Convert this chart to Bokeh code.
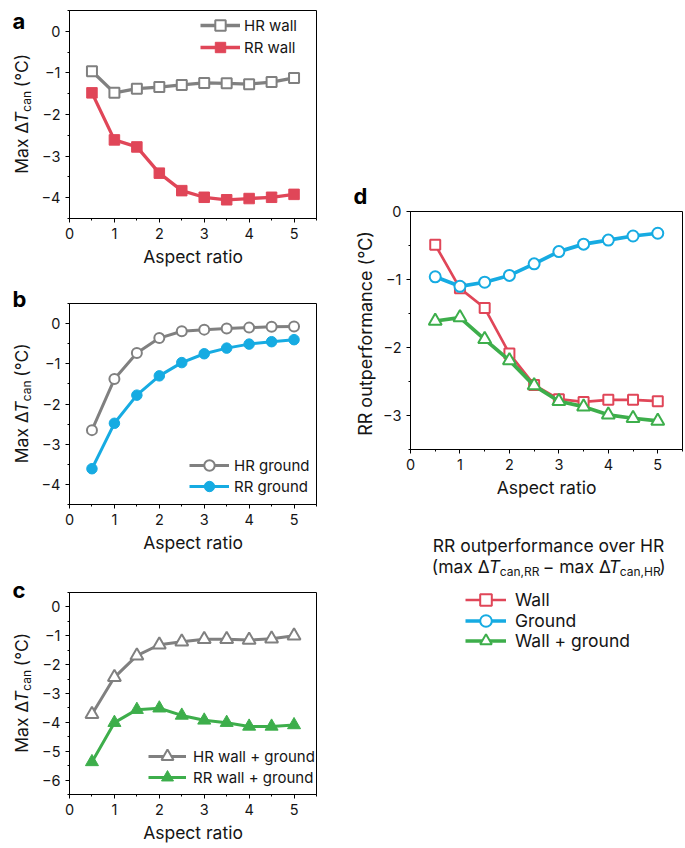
import math
from bokeh.plotting import figure
from bokeh.layouts import row, column
from bokeh.models import (Range1d, SingleIntervalTicker, CustomJSTickFormatter, Legend,
                          LegendItem)
from bokeh.core.properties import value
from bokeh.embed import file_html
from bokeh.resources import INLINE

# ---------------- data ----------------
aspect = [0.5, 1, 1.5, 2, 2.5, 3, 3.5, 4, 4.5, 5]

hr_wall = [-0.96, -1.48, -1.38, -1.34, -1.29, -1.24, -1.25, -1.27, -1.22, -1.12]
rr_wall = [-1.48, -2.61, -2.78, -3.41, -3.83, -3.99, -4.05, -4.02, -3.99, -3.92]

hr_ground = [-2.65, -1.38, -0.73, -0.36, -0.19, -0.15, -0.12, -0.10, -0.08, -0.07]
rr_ground = [-3.61, -2.48, -1.78, -1.30, -0.97, -0.75, -0.61, -0.51, -0.45, -0.40]

hr_wallground = [-3.72, -2.44, -1.69, -1.31, -1.21, -1.12, -1.12, -1.15, -1.10, -1.00]
rr_wallground = [-5.37, -4.01, -3.56, -3.51, -3.76, -3.93, -4.01, -4.14, -4.14, -4.09]

out_wall = [-0.49, -1.13, -1.42, -2.09, -2.55, -2.76, -2.80, -2.77, -2.77, -2.79]
out_ground = [-0.96, -1.10, -1.04, -0.94, -0.77, -0.59, -0.48, -0.42, -0.36, -0.32]
out_wallground = [-1.61, -1.56, -1.88, -2.19, -2.56, -2.79, -2.87, -2.99, -3.04, -3.08]

legend_a = ["HR wall", "RR wall"]
legend_b = ["HR ground", "RR ground"]
legend_c = ["HR wall + ground", "RR wall + ground"]
legend_d = ["Wall", "Ground", "Wall + ground"]

# ---------------- style ----------------
FONT = "Inter"
TXT = "#151515"
GRAY = "#808080"
RED = "#E04658"
BLUE = "#16ABE2"
GREEN = "#3DAE4B"
FIX = 7.0   # baseline correction of text glyphs (px)

fmt = CustomJSTickFormatter(code="return tick < 0 ? '\u2212' + Math.abs(tick) : String(tick);")


def make_fig(width, height, yr, mbl, mbr, mbt, mbb):
    p = figure(width=width, height=height, x_range=Range1d(0, 5.5), y_range=Range1d(*yr),
               output_backend="svg", toolbar_location=None,
               min_border_left=mbl, min_border_right=mbr, min_border_top=mbt,
               min_border_bottom=mbb)
    p.frame_align = False
    p.outline_line_color = "black"
    p.outline_line_width = 1
    p.xgrid.visible = False
    p.ygrid.visible = False
    for ax in (p.xaxis[0], p.yaxis[0]):
        ax.ticker = SingleIntervalTicker(interval=1, num_minor_ticks=2)
        ax.formatter = fmt
        ax.axis_line_color = "black"
        ax.axis_line_width = 1
        ax.major_tick_line_color = "black"
        ax.minor_tick_line_color = "black"
        ax.major_tick_out = 4
        ax.major_tick_in = 0
        ax.minor_tick_out = 2
        ax.minor_tick_in = 0
        ax.major_label_text_font = FONT
        ax.major_label_text_font_size = "14.5px"
        ax.major_label_text_color = TXT
        ax.major_label_standoff = 5
        ax.axis_label_text_font = FONT
        ax.axis_label_text_font_size = "17.5px"
        ax.axis_label_text_font_style = "normal"
        ax.axis_label_text_color = TXT
        ax.axis_label_standoff = 4
    p.xaxis.axis_label = "Aspect ratio"
    return p


def text_fig(width, height, x0=0):
    # a plain canvas (no axes) whose data units are pixels, used for composed texts
    p = figure(width=width, height=height, x_range=Range1d(x0, x0 + width),
               y_range=Range1d(0, height), output_backend="svg", toolbar_location=None,
               x_axis_location=None, y_axis_location=None, min_border=0)
    p.frame_align = False
    p.outline_line_color = None
    p.xgrid.visible = False
    p.ygrid.visible = False
    return p


def txt(p, x, y, text, size, style="normal", angle=0.0, align="left", color=TXT):
    if angle:
        x -= FIX
    else:
        y += FIX
    p.text(x=[x], y=[y], text=[text], angle=angle, text_font=value(FONT),
           text_font_size=size, text_font_style=style, text_align=align,
           text_baseline="alphabetic", text_color=color)


def ylabel_delta(p, H, row_top, frame_top, frame_bottom, xb=28):
    # "Max ΔT_can (°C)" written bottom-to-top, composed of pieces
    parts = [("Max \u0394", "17.5px", "normal", 0.0, 50.5, 0.0),
             ("T", "17.5px", "italic", 0.0, 11.5, 0.0),
             ("can", "12px", "normal", 5.0, 20.0, 0.0),
             ("(\u00b0C)", "17.5px", "normal", 0.0, 32.0, 4.5)]
    total = sum(w + g for *_, w, g in parts)
    center_img = (frame_top + frame_bottom) / 2
    y = (row_top + H) - (center_img + total / 2)   # data y of the label start
    for text, size, style, dx, w, gap in parts:
        y += gap
        txt(p, xb + dx, y, text, size, style, angle=math.pi / 2)
        y += w


def key(p, renderers, label, x, y, gw, gh, standoff, size):
    lg = Legend(items=[LegendItem(label=label, renderers=renderers)], location=(x, y),
                glyph_width=gw, glyph_height=gh, label_standoff=standoff, padding=0,
                margin=0, spacing=0, background_fill_alpha=0, border_line_color=None,
                label_text_font=FONT, label_text_font_size=size, label_text_color=TXT)
    p.add_layout(lg)


LW = 38          # width of the text strip left of panels a-c
PW = 320 - LW    # width of panels a-c

# ---------------- panel a ----------------
A_ROW, A_H = 0, 283
A_TOP, A_BOT = 10, 218
pa = make_fig(PW, A_H, (-4.5, 0.5), 68 - LW, 4, A_TOP - A_ROW, A_ROW + A_H - A_BOT)
l1 = pa.line(aspect, hr_wall, line_color=GRAY, line_width=3.3)
m1 = pa.scatter(aspect, hr_wall, marker="square", size=10, fill_color="white",
                line_color=GRAY, line_width=2)
l2 = pa.line(aspect, rr_wall, line_color=RED, line_width=3.3)
m2 = pa.scatter(aspect, rr_wall, marker="square", size=10.5, fill_color=RED, line_color=RED)
for i, (rs, cy) in enumerate([([l1, m1], 25), ([l2, m2], 47)]):
    key(pa, rs, legend_a[i], 199 - 68, A_BOT - (cy + 13), 40, 26, 4, "15px")
ta = text_fig(LW, A_H)
txt(ta, 12, A_ROW + A_H - 27, "a", "22px", "bold", color="black")
ylabel_delta(ta, A_H, A_ROW, A_TOP, A_BOT)

# ---------------- panel b ----------------
B_ROW, B_H = 283, 289
B_TOP, B_BOT = 303, 504
pb = make_fig(PW, B_H, (-4.5, 0.5), 68 - LW, 4, B_TOP - B_ROW, B_ROW + B_H - B_BOT)
l3 = pb.line(aspect, hr_ground, line_color=GRAY, line_width=3)
m3 = pb.scatter(aspect, hr_ground, marker="circle", size=10, fill_color="white",
                line_color=GRAY, line_width=2)
l4 = pb.line(aspect, rr_ground, line_color=BLUE, line_width=3)
m4 = pb.scatter(aspect, rr_ground, marker="circle", size=10.5, fill_color=BLUE, line_color=BLUE)
for i, (rs, cy) in enumerate([([l3, m3], 465), ([l4, m4], 486)]):
    key(pb, rs, legend_b[i], 188 - 68, B_BOT - (cy + 13), 40, 26, 5, "15px")
tb = text_fig(LW, B_H)
txt(tb, 12, B_ROW + B_H - 305, "b", "22px", "bold", color="black")
ylabel_delta(tb, B_H, B_ROW, B_TOP, B_BOT)

# ---------------- panel c ----------------
C_ROW, C_H = 572, 276
C_TOP, C_BOT = 592, 794
pc = make_fig(PW, C_H, (-6.5, 0.5), 68 - LW, 4, C_TOP - C_ROW, C_ROW + C_H - C_BOT)
l5 = pc.line(aspect, hr_wallground, line_color=GRAY, line_width=3)
m5 = pc.scatter(aspect, hr_wallground, marker="triangle", size=13, fill_color="white",
                line_color=GRAY, line_width=2)
l6 = pc.line(aspect, rr_wallground, line_color=GREEN, line_width=3)
m6 = pc.scatter(aspect, rr_wallground, marker="triangle", size=13, fill_color=GREEN,
                line_color=GREEN)
for i, (rs, cy) in enumerate([([l5, m5], 756), ([l6, m6], 777)]):
    key(pc, rs, legend_c[i], 147 - 68, C_BOT - (cy + 15), 38, 30, 7, "15px")
tc = text_fig(LW, C_H)
txt(tc, 12, C_ROW + C_H - 596, "c", "22px", "bold", color="black")
ylabel_delta(tc, C_H, C_ROW, C_TOP, C_BOT)

# ---------------- panel d ----------------
RX = 320               # left of right column
SW = 60                # text strip left of panel d (letter + y-axis title)
DW = 685 - RX - SW
D_H = 505
D_TOP, D_BOT = 211, 449
sd = text_fig(SW, D_H)
txt(sd, 353 - RX, D_H - 202, "d", "22px", "bold", color="black")
txt(sd, 372 - RX, D_H - (D_TOP + D_BOT) / 2 - 3, "RR outperformance (\u00b0C)", "18px",
    angle=math.pi / 2, align="center")

pd_ = make_fig(DW, D_H, (-3.5, 0.0), 410 - RX - SW, 3, D_TOP, D_H - D_BOT)
pd_.line(aspect, out_wall, line_color=RED, line_width=2.7)
pd_.scatter(aspect, out_wall, marker="square", size=10, fill_color="white",
            line_color=RED, line_width=2)
pd_.line(aspect, out_ground, line_color=BLUE, line_width=3.7)
pd_.scatter(aspect, out_ground, marker="circle", size=11, fill_color="white",
            line_color=BLUE, line_width=2)
pd_.line(aspect, out_wallground, line_color=GREEN, line_width=3.7)
pd_.scatter(aspect, out_wallground, marker="triangle", size=13, fill_color="white",
            line_color=GREEN, line_width=2)

# legend block of panel d (its own strip; key renderers lie outside the strip's view)
RW = 685 - RX
LG_TOP, LG_H = 505, 170
XOFF = 1000
lgf = text_fig(RW, LG_H, x0=XOFF)


def ly(y_img):
    return LG_TOP + LG_H - y_img


txt(lgf, XOFF + 548 - RX, ly(552), "RR outperformance over HR", "17.5px", align="center")
title2 = [("(max \u0394", "17.5px", "normal", 0, 57.0, 0.0),
          ("T", "17.5px", "italic", 0, 11.0, 0.0),
          ("can,RR", "12px", "normal", -5, 37.0, 0.0),
          ("\u2212 max \u0394", "17.5px", "normal", 0, 66.0, 6.0),
          ("T", "17.5px", "italic", 0, 11.0, 0.0),
          ("can,HR", "12px", "normal", -5, 38.5, 0.0),
          (")", "17.5px", "normal", 0, 6.0, 1.0)]
tot = sum(w + g for *_, w, g in title2)
xx = XOFF + 548 - RX - tot / 2
for text, size, style, dy, w, gap in title2:
    xx += gap
    txt(lgf, xx, ly(573) + dy, text, size, style)
    xx += w

k7 = [lgf.line(aspect, out_wall, line_color=RED, line_width=2.7),
      lgf.scatter(aspect, out_wall, marker="square", size=10, fill_color="white",
                  line_color=RED, line_width=2)]
k8 = [lgf.line(aspect, out_ground, line_color=BLUE, line_width=3.7),
      lgf.scatter(aspect, out_ground, marker="circle", size=11, fill_color="white",
                  line_color=BLUE, line_width=2)]
k9 = [lgf.line(aspect, out_wallground, line_color=GREEN, line_width=3.7),
      lgf.scatter(aspect, out_wallground, marker="triangle", size=13, fill_color="white",
                  line_color=GREEN, line_width=2)]
for i, (rs, cy) in enumerate([(k7, 599), (k8, 620), (k9, 640.5)]):
    key(lgf, rs, legend_d[i], 465 - RX, ly(cy + 14.5), 41, 29, 9, "17.5px")

layout = row(column(row(ta, pa), row(tb, pb), row(tc, pc)),
             column(row(sd, pd_), lgf))
open("out.html", "w").write(file_html(layout, INLINE))
